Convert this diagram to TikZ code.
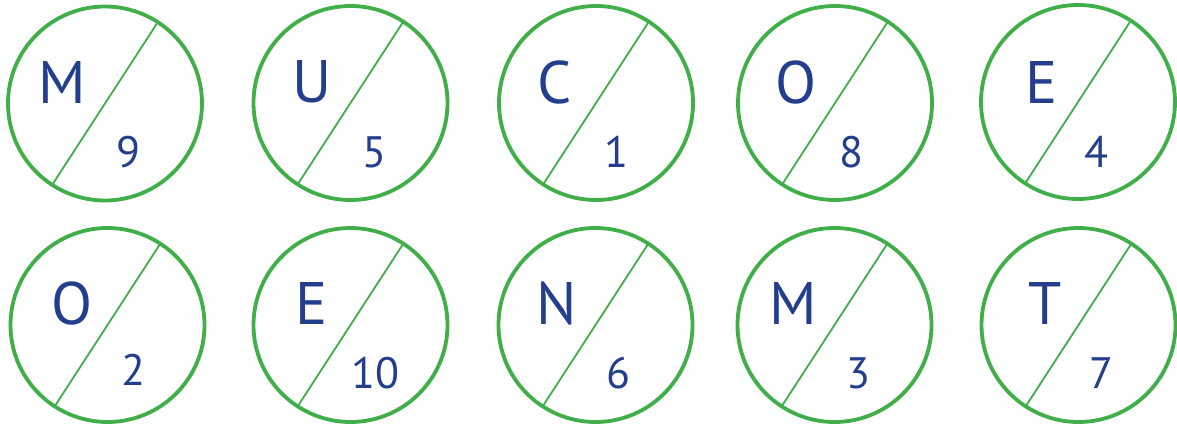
\documentclass[tikz,border=0pt]{standalone}
\usepackage{fontspec}
\setmainfont{PT Sans}
\definecolor{ringgreen}{RGB}{64,174,73}
\definecolor{txtblue}{RGB}{36,62,142}
\tikzset{
  ring/.style={circle,draw=ringgreen,line width=3.8pt,minimum size=194pt,inner sep=0pt,outer sep=0pt},
  slash/.style={draw=ringgreen,line width=1.8pt},
  letter/.style={text=txtblue,font=\fontsize{60}{60}\selectfont,inner sep=0pt,anchor=center},
  digit/.style={text=txtblue,font=\fontsize{44}{44}\selectfont,inner sep=0pt,anchor=center}
}
\begin{document}
\begin{tikzpicture}[x=1pt,y=-1pt]
\useasboundingbox (0,0) rectangle (1177,428);
\foreach \n/\cx/\cy/\L/\lx/\ly/\D/\dx/\dy in {
  a/105/103.5/M/62/82/9/128/152,
  b/350.5/103/U/312/82/5/374/152,
  c/596/103/C/555/82/1/616/152,
  d/835/103/O/796/82/8/851/152,
  e/1078/102/E/1042/82/4/1096/152,
  f/107.5/325/O/72/303/2/133/370,
  g/350.5/325/E/312/303/10/375/373,
  h/595.5/325/N/557/303/6/618/373,
  i/834.5/325/M/793/303/3/858/373,
  j/1078.5/325/T/1045/303/7/1101/373}{
  \node[ring] (\n) at (\cx,\cy) {};
  \draw[slash] (\n.57.6) -- (\n.237.6);
  \node[letter] (\n L) at (\lx,\ly) {\L};
  \node[digit] (\n D) at (\dx,\dy) {\D};
}
\end{tikzpicture}
\end{document}
